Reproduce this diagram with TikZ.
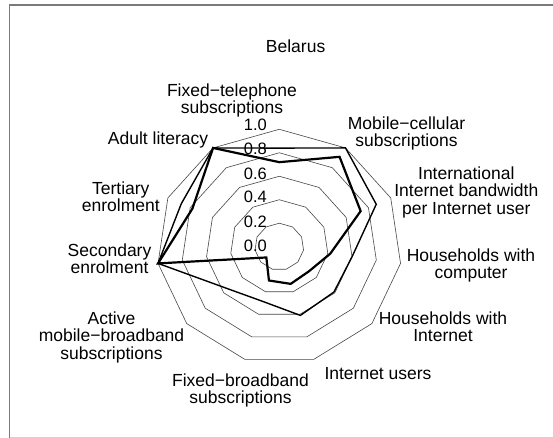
\documentclass[tikz,border=0pt]{standalone}
\usepackage{fontspec}
\setmainfont{Liberation Sans}
\begin{document}
\begin{tikzpicture}[x=1pt,y=-1pt,
  gridline/.style={draw=black!72, line width=0.6pt},
  seriesA/.style={draw=black, line width=1.4pt, line join=miter, miter limit=4},
  seriesB/.style={draw=black, line width=2.2pt, line join=miter, miter limit=4},
  framedark/.style={draw=black!52, line width=1.7pt},
  framelight/.style={draw=black!18, line width=1pt},
  lbl/.style={inner sep=0pt, align=center, font=\fontsize{17.5}{17.3}\selectfont, anchor=base},
  ticklbl/.style={inner sep=0pt, font=\fontsize{16.5}{17}\selectfont, anchor=base east},
]
\useasboundingbox[fill=white] (0,0) rectangle (553,438);
\def\cx{279.3}\def\cy{246.7}\def\rx{122.5}\def\ry{117.4}
% frame
\draw[framedark] (9.5,438) -- (9.5,4.7) -- (553,4.7);
\draw[framelight] (9.5,437.3) -- (553,437.3);
% grid rings
\foreach \r in {0.2,0.4,0.6,0.8,1.0}
  \draw[gridline] plot[samples at={0,...,10}, variable=\k]
    ({\cx+\rx*\r*cos(90-\k*360/11)},{\cy-\ry*\r*sin(90-\k*360/11)}) -- cycle;
% series A
\foreach \v [count=\k from 0] in {0.84,1.0,0.87,0.6,0.59,0.61,0.485,0.55,1.0,0.88,1.0}
  \coordinate (a\k) at ({\cx+\rx*\v*cos(90-\k*360/11)},{\cy-\ry*\v*sin(90-\k*360/11)});
% series B
\foreach \v [count=\k from 0] in {0.72,0.91,0.73,0.42,0.32,0.33,0.30,0.14,1.0,0.78,1.0}
  \coordinate (b\k) at ({\cx+\rx*\v*cos(90-\k*360/11)},{\cy-\ry*\v*sin(90-\k*360/11)});
\draw[seriesA] (a0) -- (a1) -- (a2) -- (a3) -- (a4) -- (a5) -- (a6) -- (a7) -- (a8) -- (a9) -- (a10) -- cycle;
\draw[seriesB] (b0) -- (b1) -- (b2) -- (b3) -- (b4) -- (b5) -- (b6) -- (b7) -- (b8) -- (b9) -- (b10) -- cycle;
% tick labels
\foreach \t [count=\i from 0] in {0.0,0.2,0.4,0.6,0.8,1.0}
  \node[ticklbl] (tick\i) at (267,{251-24*\i}) {\t};
% title and axis labels (anchor = baseline of last line)
\node[lbl] (title) at (295.6,52.5) {Belarus};
\node[lbl] (lft) at (232,113.8) {Fixed−telephone\\subscriptions};
\node[lbl] (lmc) at (406.5,146.8) {Mobile−cellular\\subscriptions};
\node[lbl] (lib) at (466.3,214.1) {International\\Internet bandwidth\\per Internet user};
\node[lbl] (lhc) at (471,278.3) {Households with\\computer};
\node[lbl] (lhi) at (443,341.8) {Households with\\Internet};
\node[lbl] (liu) at (378,379.5) {Internet users};
\node[lbl] (lfb) at (240.5,403.3) {Fixed−broadband\\subscriptions};
\node[lbl] (lam) at (111.5,359.1) {Active\\mobile−broadband\\subscriptions};
\node[lbl] (lse) at (109.5,273.3) {Secondary\\enrolment};
\node[lbl] (lte) at (120.8,211.8) {Tertiary\\enrolment};
\node[lbl] (lal) at (158,144.5) {Adult literacy};
\end{tikzpicture}
\end{document}
